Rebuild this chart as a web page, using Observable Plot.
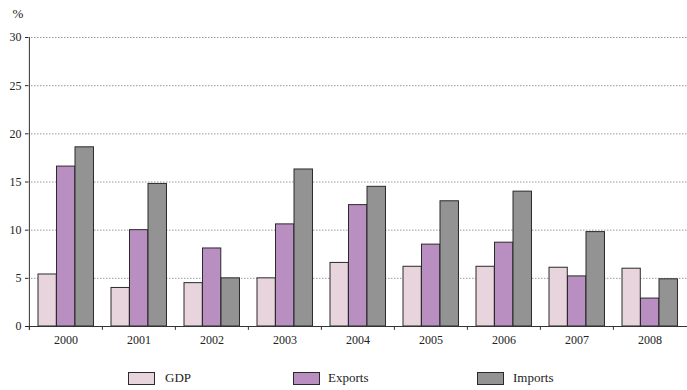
<!DOCTYPE html>
<html>
<head>
<meta charset="utf-8">
<script src="https://cdn.jsdelivr.net/npm/d3@7"></script>
<script src="https://cdn.jsdelivr.net/npm/@observablehq/plot@0.6"></script>
<style>
  html, body { margin: 0; padding: 0; background: #fff; }
  #wrap { position: relative; width: 687px; height: 390px; font-family: "Liberation Serif", serif; color: #222; }
  .leg { position: absolute; top: 372px; font-size: 13px; line-height: 12px; }
  .sw { position: absolute; width: 25px; height: 11px; border: 1px solid #2a2a2a; }
  .lt { position: absolute; white-space: nowrap; }
</style>
</head>
<body>
<div id="wrap"></div>
<script>
const years = ["2000","2001","2002","2003","2004","2005","2006","2007","2008"];
const gdp     = [5.4, 4.0, 4.5, 5.0, 6.6, 6.2, 6.2, 6.1, 6.0];
const exportsV = [16.6, 10.0, 8.1, 10.6, 12.6, 8.5, 8.7, 5.2, 2.9];
const importsV = [18.6, 14.8, 5.0, 16.3, 14.5, 13.0, 14.0, 9.8, 4.9];
const seriesNames = ["GDP", "Exports", "Imports"];
const seriesColors = ["#e8d4dc", "#b98fc1", "#939393"];
const yTicks = [0, 5, 10, 15, 20, 25, 30];

const W = 687, H = 358, ML = 28, MR = 0, MT = 37, MB = 32;
const step = (W - ML - MR) / years.length;
// bar slots within each year band (left, right offsets in px)
const slots = [[9, 27.5], [27.5, 46], [46, 64.7]];
const seriesValues = [gdp, exportsV, importsV];

const barMarks = seriesValues.map((vals, s) =>
  Plot.barY(years.map((yr, i) => ({year: yr, value: vals[i]})), {
    x: "year", y: "value",
    fill: seriesColors[s], stroke: "#2a2a2a", strokeWidth: 1,
    insetLeft: slots[s][0], insetRight: step - slots[s][1]
  })
);

const chart = Plot.plot({
  width: W, height: H,
  marginLeft: ML, marginRight: MR, marginTop: MT, marginBottom: MB,
  style: {fontFamily: "'Liberation Serif', serif", fontSize: "12px", color: "#222", background: "#fff"},
  x: {domain: years, padding: 0, tickSize: 0, tickPadding: 9, label: null},
  y: {domain: [0, 30], ticks: yTicks, tickSize: 3, tickPadding: 4, label: null},
  marks: [
    Plot.ruleY(yTicks.filter(d => d > 0), {stroke: "#9a9a9a", strokeDasharray: "1.5,1.5", strokeWidth: 1}),
    ...barMarks,
    Plot.ruleY([0], {stroke: "#333"}),
    Plot.ruleX(years, {x: d => d, dx: -step / 2, y1: 0, y2: -0.4, stroke: "#333"}),
    Plot.ruleX([years[0]], {x: d => d, dx: -step / 2, y1: -0.4, y2: 30, stroke: "#333"}),
    Plot.text(["%"], {frameAnchor: "top-left", dx: -16, dy: -29, fontSize: 13, fill: "#222"})
  ]
});
const wrap = document.getElementById("wrap");
wrap.appendChild(chart);

const legPos = [[128, 165], [293, 328], [477, 513]];
seriesNames.forEach((name, i) => {
  const sw = document.createElement("div");
  sw.className = "leg sw";
  sw.style.left = legPos[i][0] + "px";
  sw.style.background = seriesColors[i];
  wrap.appendChild(sw);
  const t = document.createElement("div");
  t.className = "leg lt";
  t.style.left = legPos[i][1] + "px";
  t.textContent = name;
  wrap.appendChild(t);
});
</script>
</body>
</html>
